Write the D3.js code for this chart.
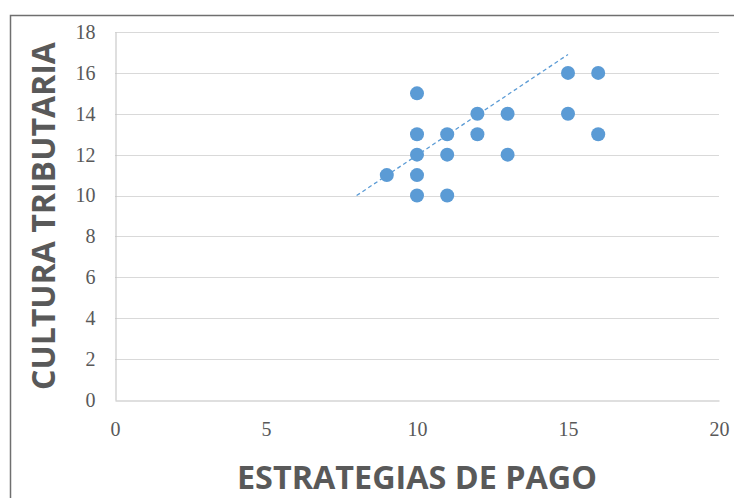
<!DOCTYPE html>
<html>
<head>
<meta charset="utf-8">
<script src="https://cdn.jsdelivr.net/npm/d3@7"></script>
<style>
  body { margin: 0; background: #fff; }
</style>
</head>
<body>
<div id="chart"></div>
<script>
// points
const estrategias = [9, 10, 10, 10, 10, 10, 11, 11, 11, 12, 12, 13, 13, 15, 15, 16, 16];
const cultura     = [11, 15, 13, 12, 11, 10, 13, 12, 10, 14, 13, 14, 12, 16, 14, 16, 13];
// trend line end points
const trendX = [8, 15];
const trendY = [10, 16.9];
const xTicks = [0, 5, 10, 15, 20];
const yTicks = [0, 2, 4, 6, 8, 10, 12, 14, 16, 18];

const width = 734, height = 498;
const margin = {top: 32, right: 15, bottom: 98, left: 115};

const svg = d3.select("#chart").append("svg")
    .attr("width", width)
    .attr("height", height);

// chart border (cut off at right and bottom)
svg.append("rect")
    .attr("x", 10.5)
    .attr("y", 15.5)
    .attr("width", 800)
    .attr("height", 600)
    .attr("fill", "none")
    .attr("stroke", "#6f6f6f")
    .attr("stroke-width", 1.5);

const x = d3.scaleLinear()
    .domain([0, 20])
    .range([margin.left, width - margin.right]);

const y = d3.scaleLinear()
    .domain([0, 18])
    .range([height - margin.bottom, margin.top]);

// horizontal grid
svg.append("g")
    .selectAll("line")
    .data(yTicks.filter(d => d > 0))
    .join("line")
    .attr("x1", x(0))
    .attr("x2", x(20))
    .attr("y1", d => Math.round(y(d)) + 0.5)
    .attr("y2", d => Math.round(y(d)) + 0.5)
    .attr("stroke", "#d9d9d9")
    .attr("stroke-width", 1);

// axes
const xAxis = svg.append("g")
    .attr("transform", `translate(0,${Math.round(y(0)) + 0.5})`)
    .call(d3.axisBottom(x).tickValues(xTicks).tickSize(0).tickPadding(21));
const yAxis = svg.append("g")
    .attr("transform", `translate(${Math.round(x(0)) + 0.5},0)`)
    .call(d3.axisLeft(y).tickValues(yTicks).tickSize(0).tickPadding(20));

[xAxis, yAxis].forEach(a => {
    a.select(".domain").attr("stroke", "#bfbfbf");
    a.selectAll("text")
        .attr("fill", "#595959")
        .style("font-family", "'Liberation Serif', 'DejaVu Serif', serif")
        .style("font-size", "20px");
});
xAxis.selectAll("text").attr("dy", "0.71em");

// trend line
svg.append("line")
    .attr("x1", x(trendX[0]))
    .attr("y1", y(trendY[0]))
    .attr("x2", x(trendX[1]))
    .attr("y2", y(trendY[1]))
    .attr("stroke", "#5b9bd5")
    .attr("stroke-width", 1.3)
    .attr("stroke-dasharray", "4,3");

// points
svg.append("g")
    .selectAll("circle")
    .data(estrategias.map((d, i) => ({x: d, y: cultura[i]})))
    .join("circle")
    .attr("cx", d => x(d.x))
    .attr("cy", d => y(d.y))
    .attr("r", 7)
    .attr("fill", "#5b9bd5");

// axis titles
svg.append("text")
    .attr("x", 417)
    .attr("y", 489)
    .attr("text-anchor", "middle")
    .attr("textLength", 360)
    .attr("lengthAdjust", "spacingAndGlyphs")
    .attr("fill", "#595959")
    .style("font-family", "'Open Sans', 'Liberation Sans', sans-serif")
    .style("font-weight", "bold")
    .style("font-size", "32px")
    .text("ESTRATEGIAS DE PAGO");

svg.append("text")
    .attr("transform", "translate(55,216) rotate(-90)")
    .attr("text-anchor", "middle")
    .attr("textLength", 348)
    .attr("lengthAdjust", "spacingAndGlyphs")
    .attr("fill", "#595959")
    .style("font-family", "'Open Sans', 'Liberation Sans', sans-serif")
    .style("font-weight", "bold")
    .style("font-size", "32px")
    .text("CULTURA TRIBUTARIA");
</script>
</body>
</html>
